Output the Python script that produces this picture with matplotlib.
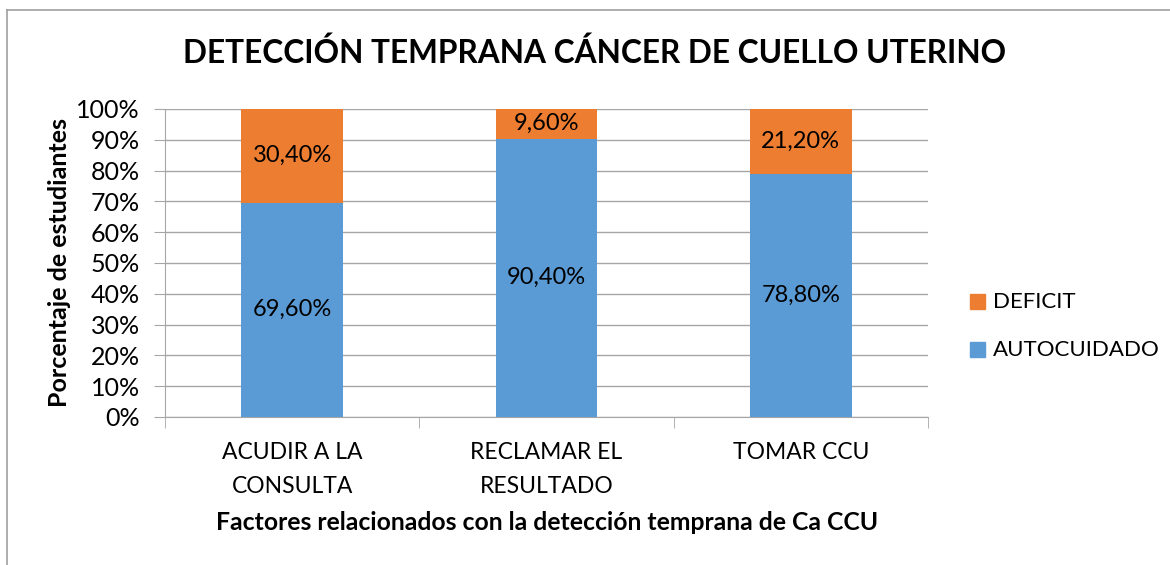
import numpy as np
import matplotlib.pyplot as plt
from matplotlib.patches import Rectangle
from matplotlib.ticker import FuncFormatter

categories = ['ACUDIR A LA\nCONSULTA', 'RECLAMAR EL\nRESULTADO', 'TOMAR CCU']
autocuidado = [69.6, 90.4, 78.8]
deficit = [30.4, 9.6, 21.2]

blue = '#5b9bd5'
orange = '#ed7d31'
grid_c = '#a6a6a6'

plt.rcParams['font.family'] = ['Lato', 'DejaVu Sans']

fig = plt.figure(figsize=(11.7, 5.65), dpi=100)
ax = fig.add_axes([165 / 1170, 1 - 417 / 565, (928 - 165) / 1170, (417 - 109) / 565])

x = np.arange(len(categories))
w = 0.4
ax.bar(x, autocuidado, w, color=blue, zorder=3)
ax.bar(x, deficit, w, bottom=autocuidado, color=orange, zorder=3)

for i in range(len(x)):
    ax.text(x[i], autocuidado[i] / 2, f'{autocuidado[i]:.2f}%'.replace('.', ','),
            ha='center', va='center', fontsize=17, zorder=4)
    ax.text(x[i], autocuidado[i] + deficit[i] / 2, f'{deficit[i]:.2f}%'.replace('.', ','),
            ha='center', va='center', fontsize=17, zorder=4)

ax.set_xlim(-0.5, 2.5)
ax.set_ylim(0, 100)
ax.set_yticks(np.arange(0, 101, 10))
ax.yaxis.set_major_formatter(FuncFormatter(lambda v, p: f'{int(v)}%'))
ax.grid(axis='y', color=grid_c, linewidth=1, zorder=0)

for s in ['top', 'right']:
    ax.spines[s].set_visible(False)
for s in ['left', 'bottom']:
    ax.spines[s].set_color(grid_c)

ax.tick_params(axis='y', length=8, color=grid_c, labelsize=18, pad=10)
ax.set_xticks(x)
ax.set_xticklabels(categories, fontsize=16.5, linespacing=1.75)
ax.tick_params(axis='x', length=0, pad=18)
ax.set_xticks([-0.5, 0.5, 1.5, 2.5], minor=True)
ax.tick_params(axis='x', which='minor', length=8, color=grid_c)

fig.text(60 / 1170, 1 - 263 / 565, 'Porcentaje de estudiantes', rotation=90,
         ha='center', va='center', fontsize=18, fontweight='bold')
fig.text(547 / 1170, 1 - 523 / 565, 'Factores relacionados con la detección temprana de Ca CCU',
         ha='center', va='center', fontsize=17.8, fontweight='bold')
fig.text(595 / 1170, 1 - 53 / 565, 'DETECCIÓN TEMPRANA CÁNCER DE CUELLO UTERINO',
         ha='center', va='center', fontsize=22.8, fontweight='bold')

# legend
for lbl, col, yy in [('DEFICIT', orange, 302), ('AUTOCUIDADO', blue, 350)]:
    fig.patches.append(Rectangle((970 / 1170, 1 - (yy + 7) / 565), 15 / 1170, 15 / 565,
                                 transform=fig.transFigure, color=col))
    fig.text(993 / 1170, 1 - yy / 565, lbl, ha='left', va='center', fontsize=16)

# chart border
fig.add_artist(plt.Line2D([7 / 1170, 1], [1 - 10 / 565, 1 - 10 / 565], color='#a0a0a0', lw=1.2))
fig.add_artist(plt.Line2D([7 / 1170, 7 / 1170], [0, 1 - 10 / 565], color='#a0a0a0', lw=1.2))

fig.savefig('out.png', dpi=100)
